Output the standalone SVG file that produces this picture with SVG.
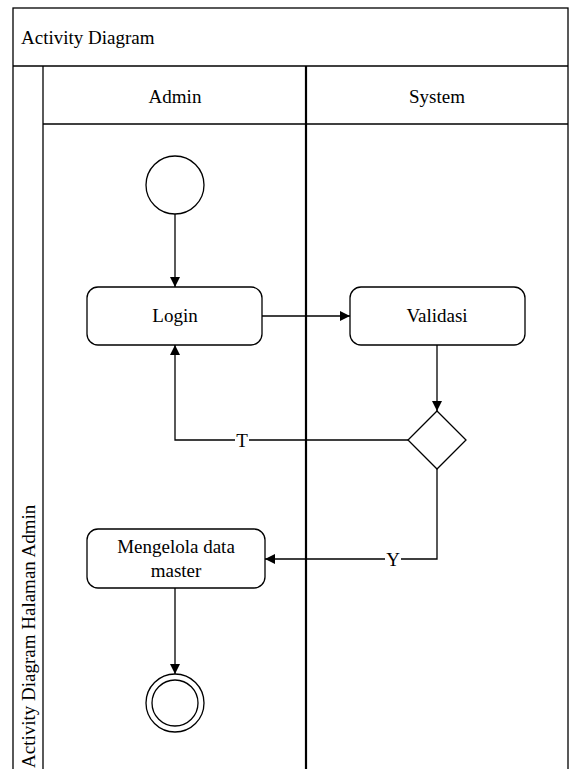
<svg xmlns="http://www.w3.org/2000/svg" width="571" height="769" viewBox="0 0 571 769" font-family="'Liberation Serif', 'Times New Roman', 'DejaVu Serif', serif" font-size="19">
<defs>
<marker id="arr" viewBox="0 0 10 10" refX="10" refY="5" markerWidth="10" markerHeight="10" markerUnits="userSpaceOnUse" orient="auto">
<path d="M0,0 L10,5 L0,10 z" fill="#000"/>
</marker>
<style>
.box{fill:#fff;stroke:#000;stroke-width:1.3}
.ln{fill:none;stroke:#000;stroke-width:1.3}
.edge{fill:none;stroke:#000;stroke-width:1.3}
</style>
</defs>
<rect width="571" height="769" fill="#fff"/>
<g id="pool">
<rect x="13" y="8" width="555" height="780" class="ln"/>
<line x1="13" y1="66" x2="568" y2="66" class="ln"/>
<text x="21" y="44">Activity Diagram</text>
<line x1="43" y1="66" x2="43" y2="769" class="ln"/>
<text transform="translate(35,768) rotate(-90)" x="0" y="0">Activity Diagram Halaman Admin</text>
</g>
<g id="lane-admin">
<line x1="43" y1="124" x2="306" y2="124" class="ln"/>
<text x="175" y="103" text-anchor="middle">Admin</text>
</g>
<g id="lane-system">
<line x1="306" y1="124" x2="568" y2="124" class="ln"/>
<line x1="306" y1="66" x2="306" y2="769" stroke="#000" stroke-width="2.2"/>
<text x="437" y="103" text-anchor="middle">System</text>
</g>
<g id="start"><circle cx="175" cy="185" r="29" class="box"/></g>
<g id="login"><rect x="87" y="287" width="175" height="58" rx="11" class="box"/><text x="175" y="322" text-anchor="middle">Login</text></g>
<g id="validasi"><rect x="350" y="287" width="175" height="58" rx="11" class="box"/><text x="437" y="322" text-anchor="middle">Validasi</text></g>
<g id="decision"><path d="M437,411 L466,440 L437,469 L408,440 Z" class="box"/></g>
<g id="mengelola"><rect x="87" y="529" width="178" height="59" rx="11" class="box"/><text x="176" y="553" text-anchor="middle">Mengelola data</text><text x="176" y="577" text-anchor="middle">master</text></g>
<g id="end"><circle cx="175" cy="703" r="29" class="box"/><circle cx="175" cy="703" r="23" class="box"/></g>
<g id="connectors">
<line x1="175" y1="214" x2="175" y2="287" class="edge" marker-end="url(#arr)"/>
<line x1="262" y1="316" x2="350" y2="316" class="edge" marker-end="url(#arr)"/>
<line x1="437" y1="345" x2="437" y2="411" class="edge" marker-end="url(#arr)"/>
<polyline points="408,440 175,440 175,345" class="edge" marker-end="url(#arr)"/>
<rect x="235" y="431" width="14" height="18" fill="#fff"/>
<text x="242" y="447" text-anchor="middle">T</text>
<polyline points="437,469 437,559 265,559" class="edge" marker-end="url(#arr)"/>
<rect x="385" y="550" width="16" height="18" fill="#fff"/>
<text x="393" y="566" text-anchor="middle">Y</text>
<line x1="175" y1="588" x2="175" y2="674" class="edge" marker-end="url(#arr)"/>
</g>
</svg>
